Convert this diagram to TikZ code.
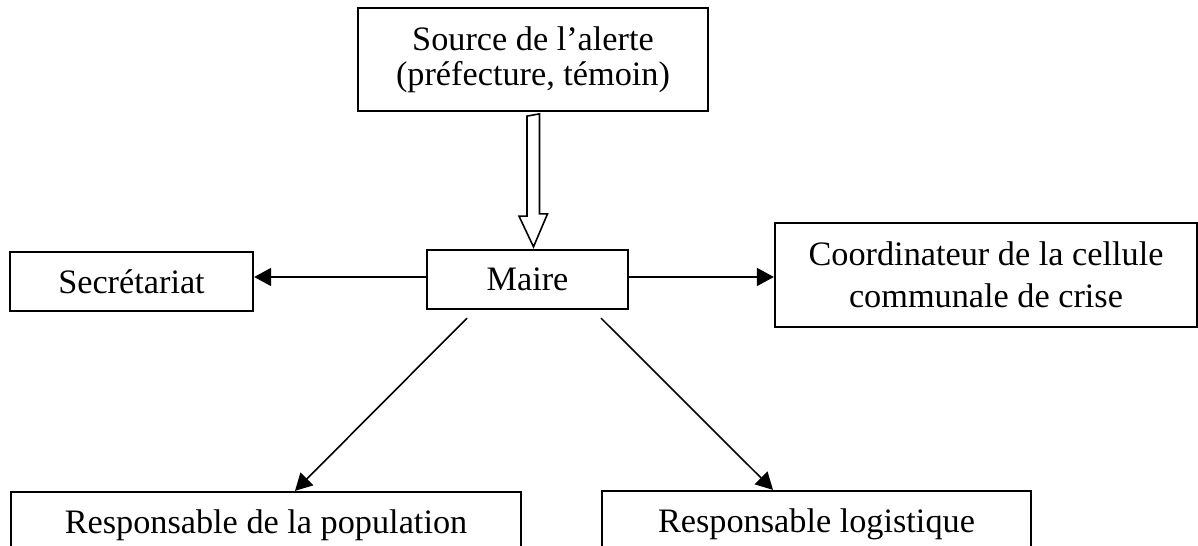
\documentclass[tikz,border=0pt]{standalone}
\usepackage{fontspec}
\setmainfont{Liberation Serif}
\usetikzlibrary{arrows.meta,calc}
\begin{document}
\begin{tikzpicture}[x=0.02cm,y=0.02cm,line join=miter,font=\fontsize{19.5}{20}\selectfont,
  box/.style={draw,line width=1.3pt,rectangle,inner sep=0pt,align=center},
  fleche/.style={line width=0.9pt,-{Triangle[length=0.34cm,width=0.36cm]}},
  creuse/.style={draw,line width=0.9pt,fill=white}]
\useasboundingbox (0,0) rectangle (1198,546);
\clip (0,0) rectangle (1198,546);
% boites
\node[box,minimum width=7cm,minimum height=2.06cm,font=\fontsize{19.5}{19.9}\selectfont] (source) at (533,486.5) {Source de l’alerte\\(préfecture, témoin)};
\node[box,minimum width=4.02cm,minimum height=1.18cm] (maire) at (527.5,266.5) {Maire};
\node[box,minimum width=4.86cm,minimum height=1.18cm] (secr) at (131.5,264.5) {Secrétariat};
\node[box,minimum width=8.44cm,minimum height=2.08cm,font=\fontsize{19.5}{23.9}\selectfont] (coord) at (986,271) {Coordinateur de la cellule\\communale de crise};
\node[box,minimum width=10.2cm,minimum height=1.32cm] (pop) at (266,21) {Responsable de la population};
\node[box,minimum width=8.58cm,minimum height=1.32cm] (logi) at (816.5,22) {Responsable logistique};
% fleche creuse
\coordinate (tip) at ($(maire.north)+(6,2)$);
\draw[creuse] ($(source.south)+(-6,-4)$) -- ++(0,-100) -- ++(-8,0) -- (tip) -- ++(14,33) -- ++(-8,0) -- ++(0,100) -- cycle;
% fleches
\draw[fleche] ([yshift=0.05cm]maire.west) -- ([yshift=0.05cm]maire.west -| secr.east);
\draw[fleche] ([yshift=0.05cm]maire.east) -- ([yshift=0.05cm]maire.east -| coord.west);
\draw[fleche] ([xshift=-1.21cm,yshift=-0.16cm]maire.south) -- ([xshift=0.58cm]pop.north);
\draw[fleche] ([xshift=1.47cm,yshift=-0.16cm]maire.south) -- ([xshift=-0.87cm]logi.north);
\end{tikzpicture}
\end{document}
